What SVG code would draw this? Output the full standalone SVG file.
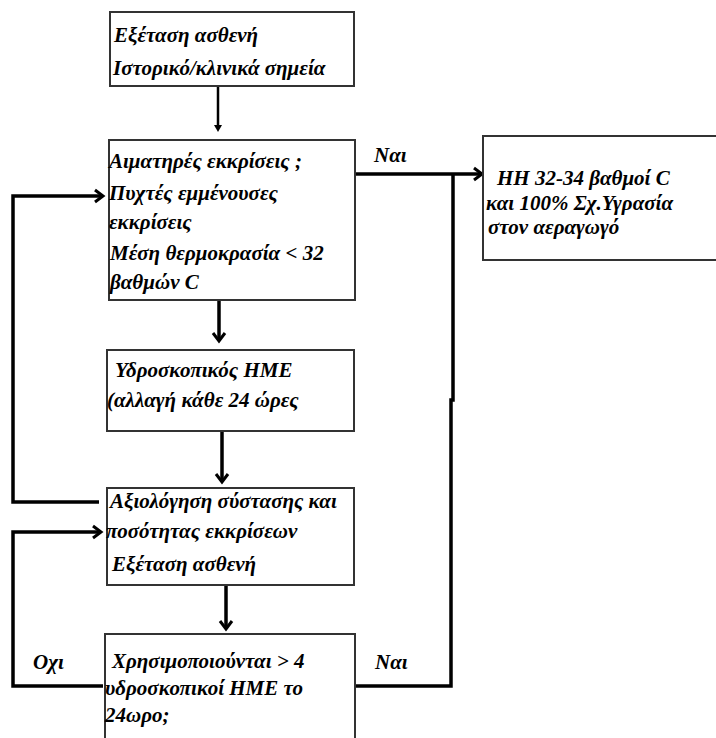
<svg xmlns="http://www.w3.org/2000/svg" width="716" height="738" viewBox="0 0 716 738">
<rect width="716" height="738" fill="#fff"/>
<g id="connectors" fill="none" stroke="#000" stroke-width="3.5">
<path stroke-width="2.5" d="M218,86 L218,127"/>
<path fill="#000" stroke="none" d="M214,125 L222,125 L218,132 Z"/>
<path d="M219,300 L219,341"/>
<path stroke-width="3" d="M213,333 L219,341 L225,333"/>
<path d="M222,431 L222,482"/>
<path stroke-width="3" d="M216,474 L222,482 L228,474"/>
<path d="M226,585 L226,629"/>
<path stroke-width="3" d="M220,621 L226,629 L232,621"/>
<path d="M355,174 L482,174"/>
<path stroke-width="3" d="M474,168 L482,174 L474,180"/>
<path d="M453,174 L453,400 L451,400 L451,686 L355,686"/>
<path d="M99,502 L13,502 L13,196 L103,196"/>
<path stroke-width="3" d="M95,190 L103,196 L95,202"/>
<path d="M103,686 L13,686 L13,532 L101,532"/>
<path stroke-width="3" d="M93,526 L101,532 L93,538"/>
</g>
<g id="n1">
<rect x="110" y="12" width="244" height="74" fill="#fff" stroke="#333" stroke-width="2"/>
<text x="114" y="42" font-family="Liberation Serif" font-weight="bold" font-style="italic" font-size="21">Εξέταση ασθενή</text>
<text x="113" y="75" font-family="Liberation Serif" font-weight="bold" font-style="italic" font-size="21">Ιστορικό/κλινικά σημεία</text>
</g>
<g id="n2">
<rect x="109" y="140" width="246" height="160" fill="#fff" stroke="#333" stroke-width="2"/>
<text x="109" y="168" font-family="Liberation Serif" font-weight="bold" font-style="italic" font-size="21">Αιματηρές εκκρίσεις ;</text>
<text x="109" y="200" font-family="Liberation Serif" font-weight="bold" font-style="italic" font-size="21">Πυχτές εμμένουσες</text>
<text x="109" y="229" font-family="Liberation Serif" font-weight="bold" font-style="italic" font-size="21">εκκρίσεις</text>
<text x="110" y="260" font-family="Liberation Serif" font-weight="bold" font-style="italic" font-size="21">Μέση θερμοκρασία &lt; 32</text>
<text x="110" y="289" font-family="Liberation Serif" font-weight="bold" font-style="italic" font-size="21">βαθμών C</text>
</g>
<g id="n3">
<rect x="483" y="136" width="240" height="124" fill="#fff" stroke="#333" stroke-width="2"/>
<text x="497" y="185" font-family="Liberation Serif" font-weight="bold" font-style="italic" font-size="21">HH 32-34 βαθμοί  C</text>
<text x="486" y="210" font-family="Liberation Serif" font-weight="bold" font-style="italic" font-size="21">και 100% Σχ.Υγρασία</text>
<text x="488" y="234" font-family="Liberation Serif" font-weight="bold" font-style="italic" font-size="21">στον αεραγωγό</text>
</g>
<g id="n4">
<rect x="107" y="350" width="247" height="81" fill="#fff" stroke="#333" stroke-width="2"/>
<text x="115" y="377" font-family="Liberation Serif" font-weight="bold" font-style="italic" font-size="21">Υδροσκοπικός HME</text>
<text x="107" y="407" font-family="Liberation Serif" font-weight="bold" font-style="italic" font-size="21">(αλλαγή κάθε 24 ώρες</text>
</g>
<g id="n5">
<rect x="107" y="488" width="247" height="97" fill="#fff" stroke="#333" stroke-width="2"/>
<text x="110" y="508" font-family="Liberation Serif" font-weight="bold" font-style="italic" font-size="21">Αξιολόγηση σύστασης και</text>
<text x="106" y="538" font-family="Liberation Serif" font-weight="bold" font-style="italic" font-size="21">ποσότητας εκκρίσεων</text>
<text x="112" y="571" font-family="Liberation Serif" font-weight="bold" font-style="italic" font-size="21">Εξέταση ασθενή</text>
</g>
<g id="n6">
<rect x="105" y="634" width="250" height="120" fill="#fff" stroke="#333" stroke-width="2"/>
<text x="112" y="668" font-family="Liberation Serif" font-weight="bold" font-style="italic" font-size="21">Χρησιμοποιούνται &gt; 4</text>
<text x="105" y="695" font-family="Liberation Serif" font-weight="bold" font-style="italic" font-size="21">υδροσκοπικοί HME το</text>
<text x="105" y="722" font-family="Liberation Serif" font-weight="bold" font-style="italic" font-size="21">24ωρο;</text>
</g>
<g id="labels">
<text x="374" y="162" font-family="Liberation Serif" font-weight="bold" font-style="italic" font-size="21">Ναι</text>
<text x="33" y="669" font-family="Liberation Serif" font-weight="bold" font-style="italic" font-size="21">Οχι</text>
<text x="375" y="669" font-family="Liberation Serif" font-weight="bold" font-style="italic" font-size="21">Ναι</text>
</g>
</svg>
